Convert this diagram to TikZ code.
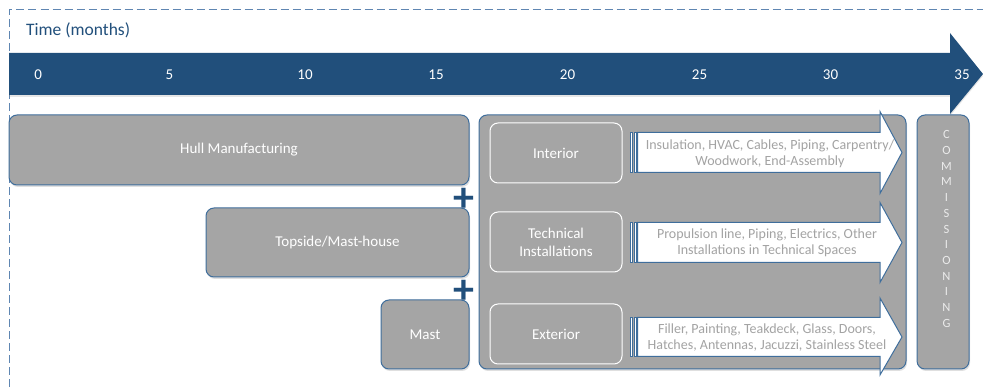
\documentclass[tikz,border=0pt]{standalone}
\usepackage{fontspec}
\setmainfont{Carlito}
\usetikzlibrary{shadows}

\definecolor{navy}{HTML}{214F7B}
\definecolor{edgeblue}{HTML}{3F6E9C}
\definecolor{framedash}{HTML}{5F86B2}
\definecolor{boxgray}{HTML}{A5A5A5}
\definecolor{notegray}{HTML}{A3A3A3}

\begin{document}
\begin{tikzpicture}[x=1pt, y=-1pt,
        phase/.style={draw=edgeblue, line width=1pt, fill=boxgray, rounded corners=8pt, inner sep=0pt,
            text=white, font=\fontsize{15}{18}\selectfont,
            drop shadow={opacity=.25, shadow xshift=1pt, shadow yshift=-2pt}},
        trade/.style={draw=white, line width=1pt, fill=boxgray, rounded corners=8pt, inner sep=0pt,
            minimum width=132pt, minimum height=60pt, align=center, text=white,
            font=\fontsize{15}{18}\selectfont},
        tick/.style={text=white, inner sep=0pt, font=\fontsize{15}{18}\selectfont},
        note/.style={text=notegray, inner sep=0pt, align=center, font=\fontsize{14}{16}\selectfont},
        plus/.style={text=navy, inner sep=0pt, font=\fontsize{42}{42}\bfseries\selectfont},
        flow/.style={draw=edgeblue, fill=white, line width=1pt}]

    \useasboundingbox (0,0) rectangle (983,387);

    % frame and time axis
    \draw[framedash, line width=1pt, dash pattern=on 8pt off 4pt] (9.5,387) -- (9.5,10) -- (983,10);
    \node[text=navy, anchor=west, inner sep=0pt, font=\fontsize{17.5}{20}\selectfont] (timelbl) at (26,30.5) {Time (months)};

    \fill[navy, drop shadow={opacity=.2, shadow xshift=0pt, shadow yshift=-2pt}]
        (9,53) -- (950,53) -- (950,33) -- (983,74) -- (950,114) -- (950,95) -- (9,95) -- cycle;

    \node[tick] (m0) at (38.3,75) {0};
    \node[tick] (m5) at (169.5,75) {5};
    \node[tick] (m10) at (305,75) {10};
    \node[tick] (m15) at (436,75) {15};
    \node[tick] (m20) at (567.5,75) {20};
    \node[tick] (m25) at (699.5,75) {25};
    \node[tick] (m30) at (830.5,75) {30};
    \node[tick] (m35) at (962,75) {35};

    % construction phases
    \node[phase, minimum width=460pt, minimum height=70pt] (hull) at (239,150) {Hull Manufacturing};
    \node[phase, minimum width=263pt, minimum height=69pt] (topside) at (337.5,242.5) {Topside/Mast-house};
    \node[phase, minimum width=88pt, minimum height=69pt] (mast) at (425,334.5) {Mast};

    \node[plus] (plusA) at (464,200) {+};
    \node[plus] (plusB) at (464,292) {+};

    % outfitting
    \node[phase, minimum width=427pt, minimum height=254pt] (outfit) at (692.5,242) {};
    \node[trade] (interior) at (556,153) {Interior};
    \node[trade] (techinst) at (556,242) {Technical\\Installations};
    \node[trade] (exterior) at (556,334) {Exterior};

    \draw[flow, line width=0.7pt] (630,132.5) rectangle (632.5,172.5);
    \draw[flow, line width=0.7pt] (634,132.5) rectangle (636,172.5);
    \draw[flow] (637.5,132.5) -- (880,132.5) -- (880,111.5) -- (902,152.5) -- (880,193.5) -- (880,172.5) -- (637.5,172.5) -- cycle;
    \node[note] (note1) at (770,154) {Insulation, HVAC, Cables, Piping, Carpentry/\\Woodwork, End-Assembly};

    \draw[flow, line width=0.7pt] (630,222.5) rectangle (632.5,262.5);
    \draw[flow, line width=0.7pt] (634,222.5) rectangle (636,262.5);
    \draw[flow] (637.5,222.5) -- (880,222.5) -- (880,202.5) -- (902,242.5) -- (880,282.5) -- (880,262.5) -- (637.5,262.5) -- cycle;
    \node[note] (note2) at (767,243) {Propulsion line, Piping, Electrics, Other\\Installations in Technical Spaces};

    \draw[flow, line width=0.7pt] (630,317.5) rectangle (632.5,356.5);
    \draw[flow, line width=0.7pt] (634,317.5) rectangle (636,356.5);
    \draw[flow] (637.5,317.5) -- (880,317.5) -- (880,298) -- (902,337) -- (880,375) -- (880,356.5) -- (637.5,356.5) -- cycle;
    \node[note] (note3) at (767,338) {Filler, Painting, Teakdeck, Glass, Doors,\\Hatches, Antennas, Jacuzzi, Stainless Steel};

    % commissioning
    \node[phase, minimum width=52pt, minimum height=254pt] (comm) at (943,242) {};
    \node[text=white!92!black, inner sep=0pt, align=center, font=\fontsize{12.5}{15.7}\selectfont] (commtxt) at (946.5,229)
        {C\\O\\M\\M\\I\\S\\S\\I\\O\\N\\I\\N\\G};

\end{tikzpicture}
\end{document}
